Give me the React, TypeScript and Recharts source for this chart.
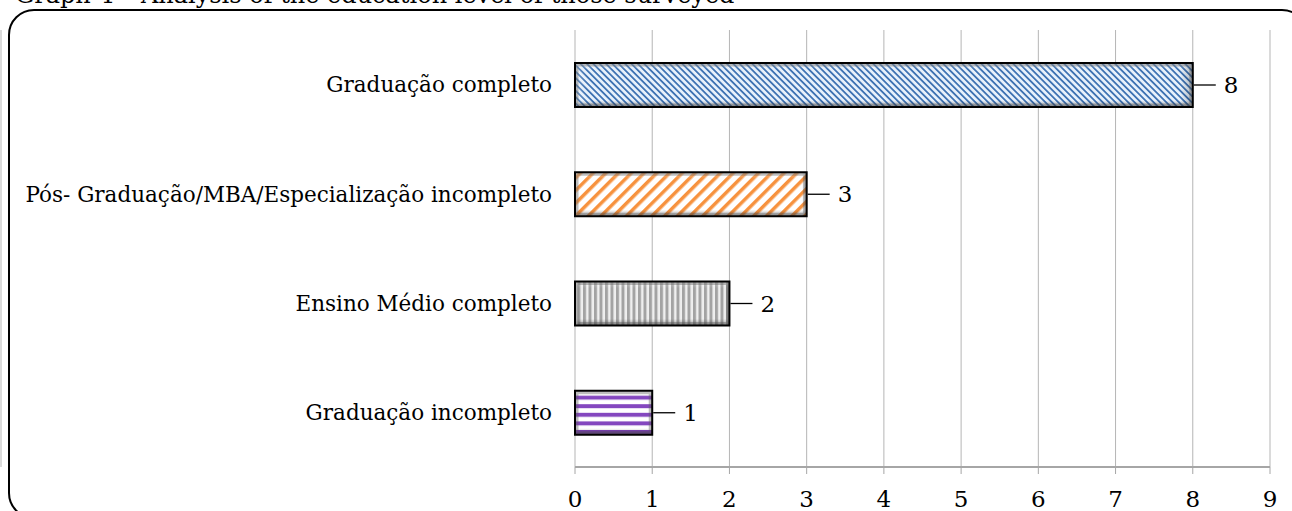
import React from 'react';
import { BarChart, Bar, XAxis, YAxis, CartesianGrid, Cell, LabelList } from 'recharts';

// Education level of the respondents (number of people)
const categories = [
  'Graduação completo',
  'Pós- Graduação/MBA/Especialização incompleto',
  'Ensino Médio completo',
  'Graduação incompleto',
];
const counts = [8, 3, 2, 1];
const xTicks = [0, 1, 2, 3, 4, 5, 6, 7, 8, 9];
const bandEdges = [0, 1, 2, 3, 4];
const patternIds = ['pat-blue', 'pat-orange', 'pat-gray', 'pat-purple'];

const FONT = 'DejaVu Serif';
const GRID = '#b5b5b5';

const rows = categories.map((name, i) => ({ name, value: counts[i] }));

// filled bar with a light bevel and a black outline
const BevelBar = (props: any) => {
  const { x, y, width, height, fill } = props;
  if (!width || width <= 0) return null;
  return (
    <g>
      <rect x={x} y={y} width={width} height={height} fill={fill} />
      <rect x={x} y={y} width={width} height={height} fill="url(#bevel-v)" />
      <rect x={x} y={y} width={width} height={height} fill="url(#bevel-h)" />
      <rect
        x={x + 2}
        y={y + 2}
        width={width - 4}
        height={height - 4}
        fill="none"
        stroke="rgba(90,90,90,0.4)"
        strokeWidth={3}
      />
      <rect x={x} y={y} width={width} height={height} fill="none" stroke="#000" strokeWidth={2} />
    </g>
  );
};

// value label with a short leader line
const ValueLabel = (props: any) => {
  const { x, y, width, height, value } = props;
  const end = x + width;
  const cy = y + height / 2;
  return (
    <g>
      <line x1={end + 1} y1={cy} x2={end + 23} y2={cy} stroke="#000" strokeWidth={1.3} />
      <text x={end + 31} y={cy} dominantBaseline="central" style={{ fontFamily: FONT }} fontSize={23} fill="#000">
        {value}
      </text>
    </g>
  );
};

export default function App() {
  return (
    <div style={{ position: 'absolute', left: 0, top: 0, width: 1292, height: 511, overflow: 'hidden', background: '#fff' }}>
      <div
        style={{
          position: 'absolute',
          left: 15,
          top: -17,
          fontFamily: FONT,
          fontSize: 24,
          lineHeight: '24px',
          whiteSpace: 'nowrap',
          color: '#000',
        }}
      >
        Graph 4 – Analysis of the education level of those surveyed
      </div>
      <div
        style={{
          position: 'absolute',
          left: 8,
          top: 9,
          width: 1296,
          height: 506,
          border: '2px solid #000',
          borderRadius: 26,
        }}
      />
      <div style={{ position: 'absolute', left: 0, top: 0 }}>
        <BarChart
          layout="vertical"
          width={1292}
          height={511}
          data={rows}
          margin={{ top: 30, right: 22, bottom: 0, left: 0 }}
        >
          <defs>
            <pattern id="pat-blue" patternUnits="userSpaceOnUse" width={4.5} height={4.5} patternTransform="rotate(-45)">
              <rect width={4.5} height={4.5} fill="#e8f1fb" />
              <rect width={1.8} height={4.5} fill="#3f73b3" />
            </pattern>
            <pattern id="pat-orange" patternUnits="userSpaceOnUse" width={9} height={9} patternTransform="rotate(45)">
              <rect width={9} height={9} fill="#ffffff" />
              <rect width={3.5} height={9} fill="#f7923e" />
            </pattern>
            <pattern id="pat-gray" patternUnits="userSpaceOnUse" width={5.5} height={5.5}>
              <rect width={5.5} height={5.5} fill="#efefef" />
              <rect width={3} height={5.5} fill="#a3a3a3" />
            </pattern>
            <pattern id="pat-purple" patternUnits="userSpaceOnUse" width={8.6} height={8.6}>
              <rect width={8.6} height={8.6} fill="#ffffff" />
              <rect width={8.6} height={4} fill="#8447bf" />
            </pattern>
            <linearGradient id="bevel-v" x1="0" y1="0" x2="0" y2="1">
              <stop offset="0" stopColor="#ffffff" stopOpacity={0.35} />
              <stop offset="0.15" stopColor="#ffffff" stopOpacity={0} />
              <stop offset="0.85" stopColor="#000000" stopOpacity={0} />
              <stop offset="1" stopColor="#000000" stopOpacity={0.35} />
            </linearGradient>
            <linearGradient id="bevel-h" x1="0" y1="0" x2="1" y2="0">
              <stop offset="0" stopColor="#ffffff" stopOpacity={0.25} />
              <stop offset="0.02" stopColor="#ffffff" stopOpacity={0} />
              <stop offset="0.98" stopColor="#000000" stopOpacity={0} />
              <stop offset="1" stopColor="#000000" stopOpacity={0.25} />
            </linearGradient>
          </defs>
          <CartesianGrid horizontal={false} stroke={GRID} />
          <XAxis
            type="number"
            domain={[0, 9]}
            ticks={xTicks}
            interval={0}
            height={44}
            axisLine={{ stroke: '#a6a6a6', strokeWidth: 2 }}
            tickLine={{ stroke: '#a6a6a6' }}
            tickSize={7}
            tickMargin={17}
            tick={{ fontSize: 23, fill: '#000', style: { fontFamily: FONT } }}
          />
          <YAxis
            yAxisId="edge"
            type="number"
            domain={[0, 4]}
            ticks={bandEdges}
            width={1}
            tick={false}
            tickSize={8}
            axisLine={{ stroke: GRID }}
            tickLine={{ stroke: '#8c8c8c' }}
          />
          <YAxis
            yAxisId="cat"
            type="category"
            dataKey="name"
            width={574}
            axisLine={false}
            tickLine={false}
            tickSize={0}
            tickMargin={23}
            interval={0}
            tick={{ fontSize: 21.5, fill: '#000', style: { fontFamily: FONT } }}
          />
          <Bar yAxisId="cat" dataKey="value" barSize={44} shape={BevelBar} isAnimationActive={false}>
            {rows.map((r, i) => (
              <Cell key={r.name} fill={`url(#${patternIds[i]})`} />
            ))}
            <LabelList dataKey="value" content={ValueLabel} />
          </Bar>
        </BarChart>
      </div>
    </div>
  );
}
